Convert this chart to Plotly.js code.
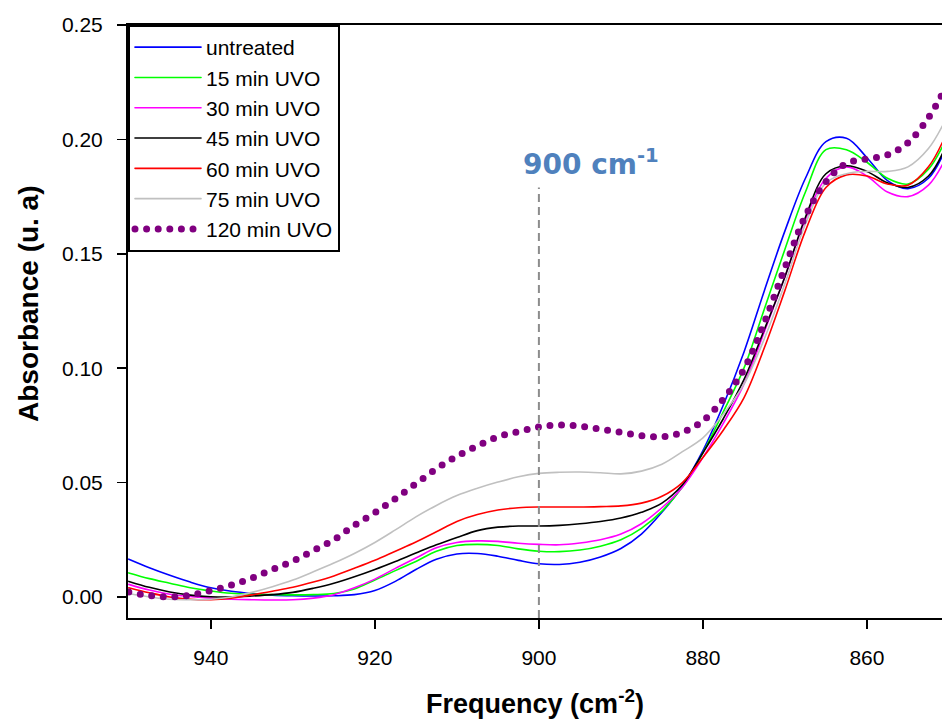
<!DOCTYPE html>
<html><head><meta charset="utf-8">
<script src="https://cdn.plot.ly/plotly-3.0.1.min.js"></script>
<style>
html,body{margin:0;padding:0;background:#fff;}
#chart{width:942px;height:722px;}
.js-line{stroke-linecap:round;}
</style>
</head><body><div id="chart"></div>
<script>
const freq = [950, 947.5, 945, 942.5, 940, 937.5, 935, 932.5, 930, 927.5, 925, 922.5, 920, 917.5, 915, 912.5, 910, 907.5, 905, 902.5, 900, 897.5, 895, 892.5, 890, 887.5, 885, 882.5, 880, 877.5, 875, 872.5, 870, 867.5, 865, 862.5, 860, 857.5, 855, 852.5, 850.5];

const untreated = [0.0165, 0.0128, 0.0095, 0.0065, 0.0040, 0.0025, 0.0015, 0.0008, 0.0005, 0.0004, 0.0005, 0.0010, 0.0028, 0.0068, 0.0120, 0.0165, 0.0188, 0.0190, 0.0178, 0.0160, 0.0145, 0.0142, 0.0152, 0.0175, 0.0212, 0.0275, 0.0370, 0.0485, 0.0640, 0.0840, 0.1070, 0.1340, 0.1600, 0.1830, 0.1990, 0.2005, 0.1920, 0.1820, 0.1785, 0.1830, 0.1950];
const uvo15 = [0.0105, 0.0080, 0.0060, 0.0040, 0.0026, 0.0016, 0.0012, 0.0010, 0.0009, 0.0010, 0.0015, 0.0035, 0.0074, 0.0115, 0.0155, 0.0200, 0.0225, 0.0230, 0.0225, 0.0210, 0.0200, 0.0198, 0.0205, 0.0222, 0.0250, 0.0300, 0.0375, 0.0480, 0.0630, 0.0810, 0.1000, 0.1260, 0.1520, 0.1770, 0.1955, 0.1955, 0.1900, 0.1830, 0.1805, 0.1870, 0.1990];
const uvo30 = [0.0055, 0.0030, 0.0012, 0.0002, -0.0005, -0.0010, -0.0012, -0.0013, -0.0012, -0.0005, 0.0010, 0.0040, 0.0078, 0.0125, 0.0170, 0.0215, 0.0238, 0.0245, 0.0243, 0.0235, 0.0230, 0.0228, 0.0236, 0.0250, 0.0275, 0.0320, 0.0390, 0.0480, 0.0610, 0.0760, 0.0930, 0.1160, 0.1400, 0.1650, 0.1830, 0.1880, 0.1840, 0.1770, 0.1750, 0.1800, 0.1910];
const uvo45 = [0.0068, 0.0042, 0.0022, 0.0008, 0.0001, 0.0000, 0.0004, 0.0010, 0.0020, 0.0038, 0.0060, 0.0088, 0.0120, 0.0155, 0.0192, 0.0228, 0.0260, 0.0290, 0.0305, 0.0310, 0.0310, 0.0313, 0.0320, 0.0330, 0.0345, 0.0370, 0.0410, 0.0490, 0.0630, 0.0780, 0.0950, 0.1170, 0.1400, 0.1660, 0.1850, 0.1885, 0.1860, 0.1810, 0.1790, 0.1840, 0.1960];
const uvo60 = [0.0040, 0.0018, 0.0000, -0.0010, -0.0012, -0.0005, 0.0009, 0.0025, 0.0042, 0.0065, 0.0092, 0.0125, 0.0160, 0.0200, 0.0240, 0.0285, 0.0330, 0.0360, 0.0380, 0.0390, 0.0393, 0.0393, 0.0393, 0.0395, 0.0398, 0.0410, 0.0440, 0.0500, 0.0610, 0.0730, 0.0870, 0.1090, 0.1340, 0.1600, 0.1790, 0.1845, 0.1840, 0.1805, 0.1800, 0.1880, 0.2010];
const uvo75 = [0.0015, 0.0000, -0.0010, -0.0012, -0.0010, 0.0000, 0.0020, 0.0045, 0.0074, 0.0110, 0.0148, 0.0190, 0.0238, 0.0293, 0.0350, 0.0400, 0.0443, 0.0475, 0.0502, 0.0525, 0.0540, 0.0545, 0.0546, 0.0543, 0.0538, 0.0550, 0.0580, 0.0635, 0.0695, 0.0800, 0.0930, 0.1130, 0.1370, 0.1630, 0.1810, 0.1850, 0.1860, 0.1860, 0.1880, 0.1960, 0.2080];
const uvo120 = [0.0022, 0.0006, 0.0000, 0.0008, 0.0028, 0.0052, 0.0082, 0.0120, 0.0157, 0.0203, 0.0250, 0.0313, 0.0368, 0.0430, 0.0495, 0.0560, 0.0615, 0.0660, 0.0700, 0.0722, 0.0743, 0.0752, 0.0747, 0.0733, 0.0720, 0.0705, 0.0700, 0.0720, 0.0770, 0.0865, 0.0995, 0.1200, 0.1440, 0.1665, 0.1815, 0.1895, 0.1915, 0.1932, 0.1985, 0.2095, 0.2220];

const seriesNames = ['untreated', '15 min UVO', '30 min UVO', '45 min UVO', '60 min UVO', '75 min UVO', '120 min UVO'];
const seriesValues = [untreated, uvo15, uvo30, uvo45, uvo60, uvo75, uvo120];
const seriesColors = ['#0000FF', '#00FF00', '#FF00FF', '#000000', '#FF0000', '#C0C0C0', '#800080'];

const xTicks = [940, 920, 900, 880, 860];
const yTicks = [0.00, 0.05, 0.10, 0.15, 0.20, 0.25];
const yTickText = ['0.00', '0.05', '0.10', '0.15', '0.20', '0.25'];
const markerFreq = 900;
const markerTop = 0.179;
const markerLabel = '900 cm<sup>-1</sup>';
const xTitle = 'Frequency (cm<sup>-2</sup>)';
const yTitle = 'Absorbance (u. a)';

const traces = seriesNames.map((name, i) => {
  const dotted = i === seriesNames.length - 1;
  return {
    type: 'scatter', mode: 'lines', name: name,
    x: freq, y: seriesValues[i],
    line: dotted ? {color: seriesColors[i], width: 7, dash: '0px,11.6px', shape: 'spline', smoothing: 1}
                 : {color: seriesColors[i], width: 1.6, shape: 'spline', smoothing: 1},
    hoverinfo: 'skip'
  };
});

const fontFam = '"Liberation Sans", Arial, sans-serif';
const layout = {
  width: 942, height: 722,
  margin: {l: 128, r: 0, t: 25, b: 104},
  paper_bgcolor: '#fff', plot_bgcolor: '#fff',
  showlegend: true,
  legend: {
    x: 0, y: 1, xanchor: 'left', yanchor: 'top',
    bordercolor: '#000', borderwidth: 2, bgcolor: '#fff',
    font: {family: fontFam, size: 21, color: '#000'},
    itemwidth: 66, tracegroupgap: 0
  },
  xaxis: {
    range: [950.1, 850.85], autorange: false,
    tickvals: xTicks, ticks: 'outside', ticklen: 9, tickwidth: 1.5, tickcolor: '#000',
    showline: true, linecolor: '#000', linewidth: 2, mirror: true,
    showgrid: false, zeroline: false,
    tickfont: {family: fontFam, size: 21, color: '#000'},
    ticklabelstandoff: 11,
    title: {text: '<b>' + xTitle + '</b>', font: {family: fontFam, size: 27, color: '#000'}, standoff: 26}
  },
  yaxis: {
    range: [-0.0092, 0.25], autorange: false,
    tickvals: yTicks, ticktext: yTickText, ticks: 'outside', ticklen: 9, tickwidth: 1.5, tickcolor: '#000',
    showline: true, linecolor: '#000', linewidth: 2, mirror: false,
    showgrid: false, zeroline: false,
    tickfont: {family: fontFam, size: 21, color: '#000'},
    ticklabelstandoff: 10
  },
  shapes: [{
    type: 'line', xref: 'x', yref: 'y', x0: markerFreq, x1: markerFreq, y0: -0.0092, y1: markerTop,
    line: {color: '#8C8C8C', width: 2, dash: '8px,5px'}
  }],
  annotations: [{
    xref: 'x', yref: 'y', x: markerFreq, y: 0.1897, xanchor: 'left', yanchor: 'middle', xshift: -18,
    text: '<b>' + markerLabel + '</b>', showarrow: false,
    font: {family: '"DejaVu Sans", sans-serif', size: 28, color: '#4F81BD'}
  }, {
    xref: 'paper', yref: 'paper', x: -0.1229, y: 0.5295, xanchor: 'center', yanchor: 'middle',
    textangle: -90, showarrow: false,
    text: '<b>' + yTitle + '</b>',
    font: {family: fontFam, size: 28, color: '#000'}
  }]
};

Plotly.newPlot('chart', traces, layout, {displayModeBar: false, staticPlot: true});
</script>
</body></html>
